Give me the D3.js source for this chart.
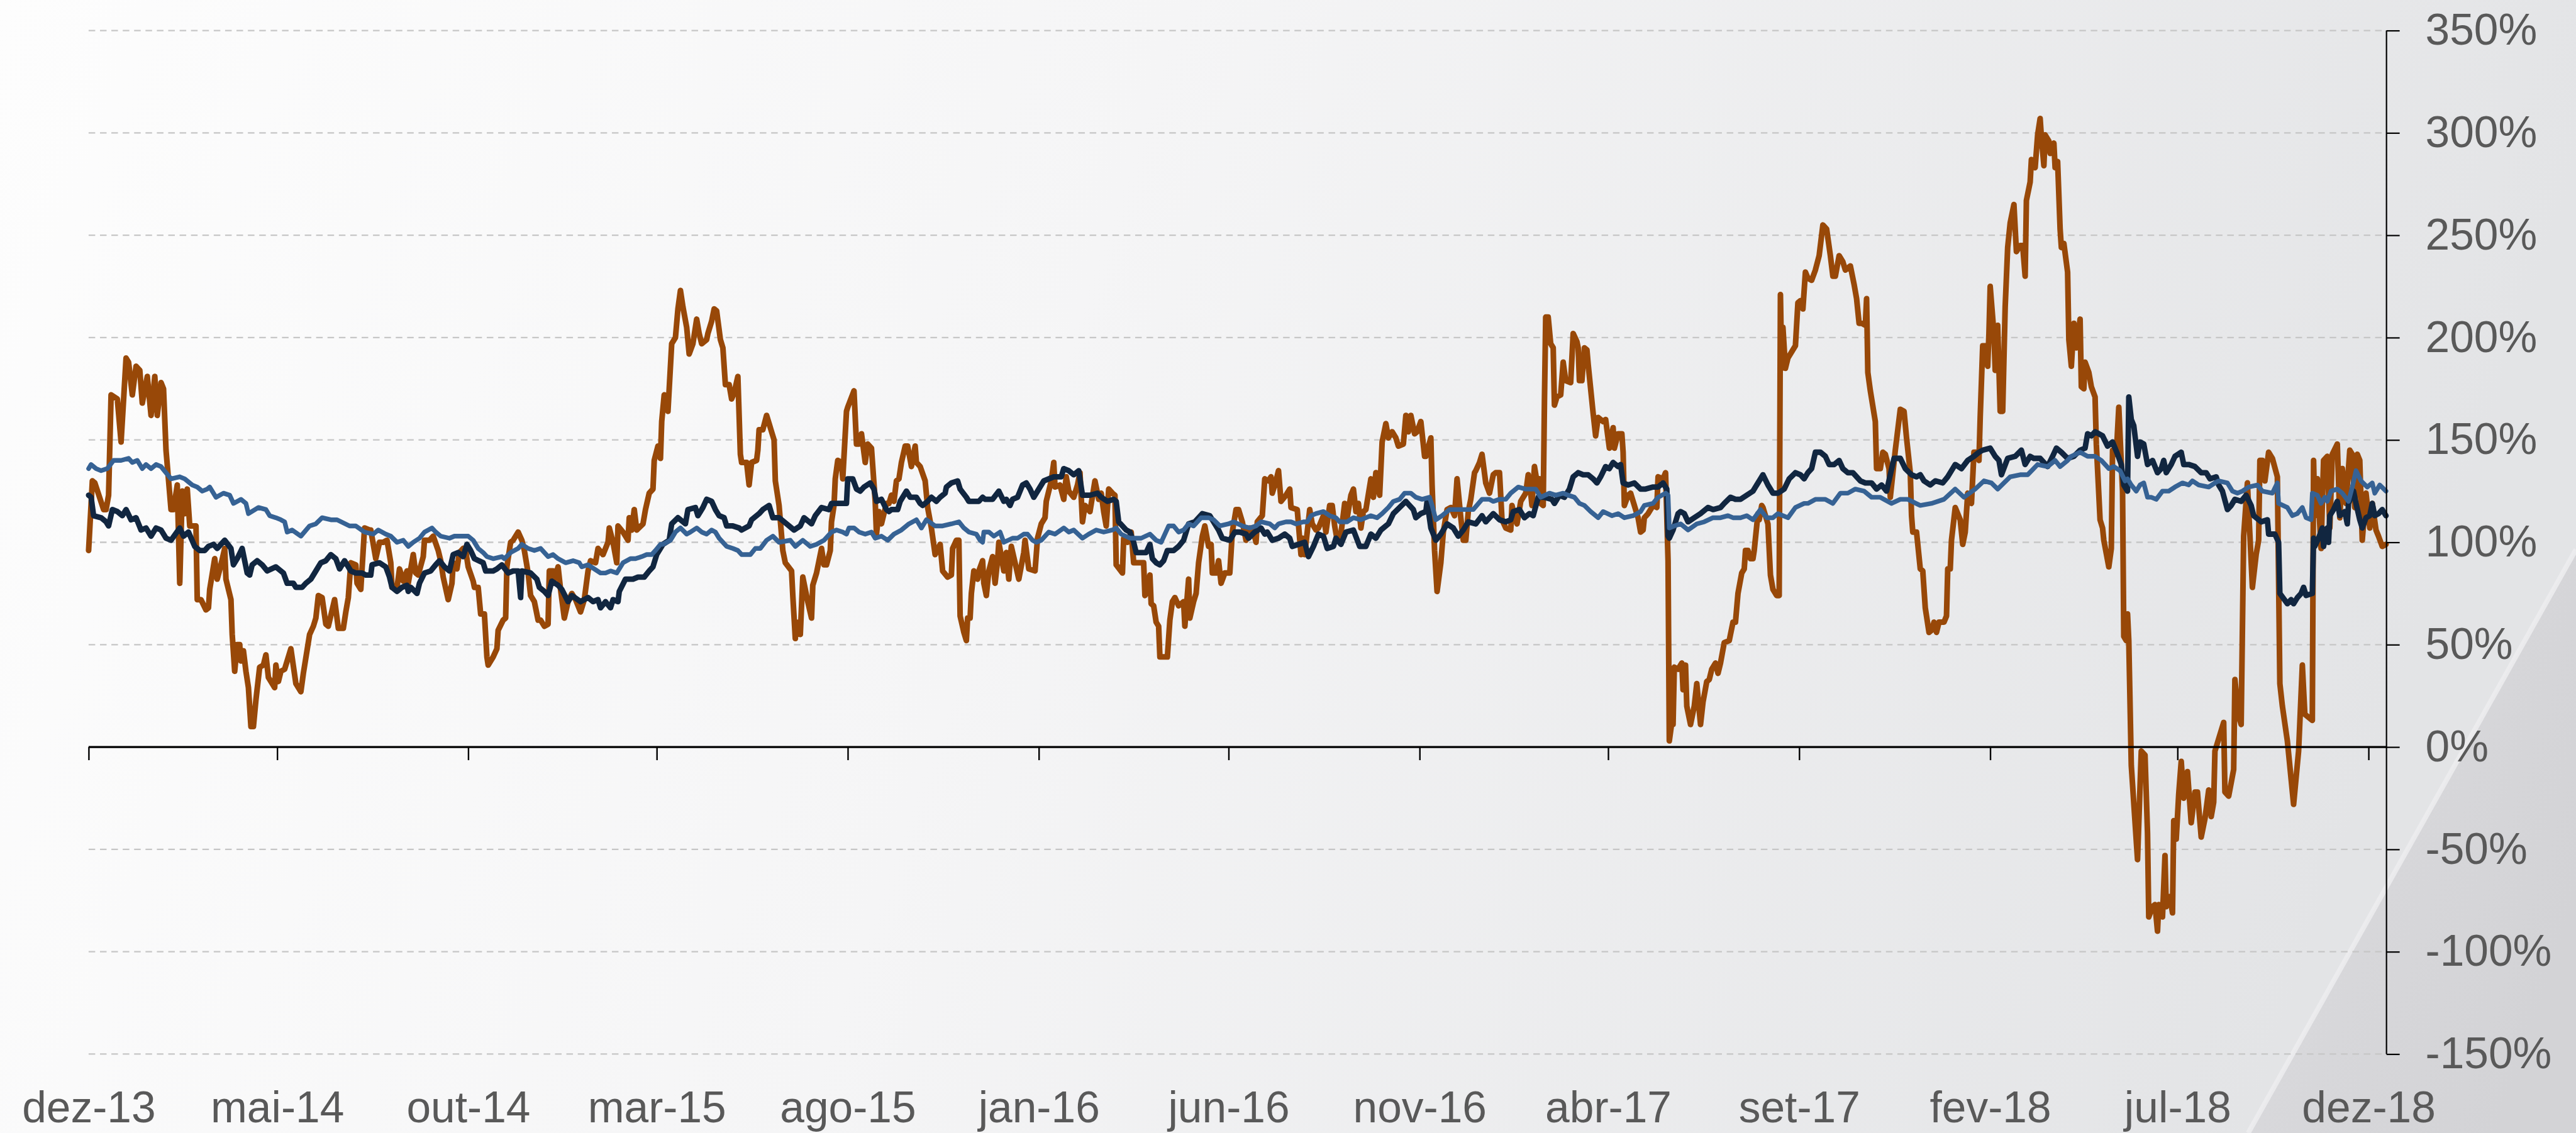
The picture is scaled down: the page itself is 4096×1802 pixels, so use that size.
<!DOCTYPE html>
<html>
<head>
<meta charset="utf-8">
<script src="https://cdn.jsdelivr.net/npm/d3@7"></script>
<style>
html,body{margin:0;padding:0;background:#fff;}
svg{display:block;}
</style>
</head>
<body>
<svg id="chart" width="4096" height="1802"></svg>
<script>
// ---------- DATA (day offset from 1 Dec 2013, value in %) ----------
const startDate = Date.UTC(2013, 11, 1);
const endDay = 1840.4;

const tickDates = ["2013-12-01","2014-05-01","2014-10-01","2015-03-01","2015-08-01","2016-01-01","2016-06-01","2016-11-01","2017-04-01","2017-09-01","2018-02-01","2018-07-01","2018-12-01"];
const tickLabels = ["dez-13","mai-14","out-14","mar-15","ago-15","jan-16","jun-16","nov-16","abr-17","set-17","fev-18","jul-18","dez-18"];
const yTicks = [-150,-100,-50,0,50,100,150,200,250,300,350];

const orangeSeries = [[0,96],[3,130],[5,129],[12,116],[14,116],[16,123],[18,172],[23,170],[26,149],[30,190],[32,188],[35,172],[38,186],[41,184],[43,168],[47,181],[50,162],[53,181],[55,162],[58,178],[60,175],[62,145],[66,116],[68,116],[71,128],[73,80],[75,125],[77,114],[79,126],[81,108],[86,108],[87,72],[90,72],[94,67],[96,68],[97,77],[101,92],[103,82],[106,89],[109,97],[110,82],[114,72],[115,55],[117,37],[119,50],[121,50],[122,42],[124,47],[126,37],[128,29],[130,10],[132,10],[134,23],[137,39],[140,40],[142,45],[144,34],[149,29],[150,40],[152,32],[154,37],[157,38],[162,48],[166,31],[170,27],[172,36],[177,55],[180,59],[182,63],[184,74],[187,73],[190,60],[192,59],[197,72],[200,58],[204,58],[206,66],[208,73],[210,90],[214,89],[215,80],[218,77],[221,107],[225,106],[226,106],[230,92],[233,100],
[236,100],[239,101],[242,90],[243,78],[247,78],[249,87],[252,81],[255,86],[256,80],[260,94],[262,85],[264,84],[268,93],[269,101],[273,101],[276,103],[280,96],[282,91],[284,83],[288,72],[291,80],[292,90],[295,87],[297,95],[300,97],[302,96],[304,88],[308,81],[309,78],[312,78],[314,65],[317,65],[319,44],[320,40],[324,44],[327,48],[328,57],[332,62],[334,63],[335,88],[338,100],[340,101],[344,105],[347,101],[349,96],[352,85],[354,74],[357,71],[360,62],[362,62],[365,59],[368,60],[369,86],[372,86],[373,82],[376,88],[378,77],[381,63],[384,71],[387,75],[390,72],[394,66],[397,72],[400,86],[402,91],[406,90],[408,97],[412,94],[416,100],[417,107],[420,100],[423,90],[424,108],[428,105],[432,101],[433,112],[435,106],[437,116],[439,106],[444,109],[446,116],[449,124],[452,126],[453,140],[456,147],[458,141],[459,159],[461,172],[464,164],
[467,197],[470,200],[472,214],[474,223],[476,215],[479,205],[481,192],[484,197],[487,209],[489,202],[491,197],[495,199],[496,202],[499,208],[501,214],[503,213],[506,199],[508,195],[510,177],[513,177],[515,170],[517,173],[520,181],[522,143],[523,139],[527,139],[529,128],[531,139],[535,140],[536,145],[537,155],[540,155],[543,162],[545,158],[547,154],[549,150],[550,130],[553,118],[556,96],[558,90],[563,86],[564,74],[566,53],[567,61],[570,55],[572,83],[576,71],[579,63],[580,79],[583,85],[585,91],[587,97],[589,89],[591,89],[594,96],[595,110],[597,118],[598,131],[600,140],[603,139],[604,131],[607,164],[608,166],[613,174],[615,148],[617,148],[619,153],[622,139],[624,148],[627,146],[630,120],[631,104],[633,115],[635,109],[639,119],[641,119],[643,123],[645,120],[647,130],[649,131],[651,139],[654,147],[656,147],[659,137],[662,147],[663,139],[666,137],[670,130],[672,117],[675,107],[678,94],[682,99],[684,86],[688,83],[691,84],[692,97],[695,101],
[697,101],[698,64],[701,56],[703,52],[704,63],[706,63],[707,75],[709,86],[712,82],[713,86],[716,91],[717,80],[719,74],[721,86],[724,93],[726,80],[728,91],[729,100],[733,86],[735,95],[737,82],[739,98],[742,90],[745,82],[749,95],[750,101],[753,87],[758,86],[760,102],[763,109],[766,112],[767,120],[771,130],[773,139],[774,127],[778,128],[781,121],[783,132],[785,125],[789,122],[792,128],[794,134],[796,110],[798,118],[802,115],[806,130],[809,121],[811,124],[813,115],[815,108],[817,126],[820,124],[822,123],[823,89],[828,85],[829,102],[832,100],[835,105],[837,90],[841,90],[845,90],[846,74],[848,76],[850,84],[851,70],[853,69],[855,61],[857,59],[858,44],[861,44],[864,44],[866,62],[868,71],[870,73],[873,69],[877,71],[878,59],[881,82],[882,63],[885,71],[887,75],[889,90],[892,103],[894,108],[897,98],[899,99],[900,85],[903,85],[905,91],[907,80],[910,85],[914,85],[916,105],[919,116],[921,116],[924,110],
[927,101],[930,107],[933,105],[935,100],[936,110],[940,113],[942,131],[945,130],[947,132],[948,124],[951,130],[953,135],[955,120],[959,123],[962,126],[963,117],[968,116],[971,94],[972,102],[974,94],[978,116],[980,109],[983,106],[985,107],[989,113],[991,105],[994,118],[996,118],[998,108],[1000,101],[1003,104],[1006,119],[1008,112],[1011,123],[1013,126],[1015,115],[1017,119],[1019,107],[1021,115],[1023,116],[1027,131],[1029,122],[1031,134],[1034,123],[1036,149],[1039,158],[1041,151],[1044,154],[1047,151],[1049,147],[1053,148],[1055,162],[1057,154],[1059,162],[1062,153],[1064,154],[1067,159],[1070,142],[1071,142],[1075,151],[1076,128],[1078,96],[1080,76],[1083,90],[1085,105],[1088,116],[1091,117],[1094,113],[1096,131],[1099,112],[1101,101],[1103,101],[1105,115],[1107,121],[1110,134],[1111,135],[1114,139],[1116,143],[1119,129],[1122,124],[1125,133],[1127,134],[1130,134],[1132,111],[1135,107],[1139,106],[1140,118],[1142,113],[1144,109],[1147,120],[1151,124],[1153,133],[1155,124],
[1156,118],[1158,137],[1161,126],[1162,131],[1163,119],[1165,118],[1166,169],[1167,210],[1169,210],[1171,197],[1173,195],[1174,167],[1176,171],[1179,172],[1181,188],[1183,179],[1187,178],[1189,202],[1192,198],[1193,195],[1194,179],[1196,179],[1198,195],[1200,194],[1201,187],[1205,163],[1207,152],[1209,161],[1213,159],[1215,160],[1218,146],[1221,156],[1222,146],[1225,153],[1228,153],[1229,144],[1230,118],[1233,123],[1235,124],[1238,118],[1241,112],[1243,105],[1245,106],[1246,112],[1249,114],[1251,116],[1253,118],[1256,117],[1257,132],[1261,131],[1263,134],[1265,91],[1266,3],[1268,12],[1269,11],[1270,39],[1273,38],[1276,41],[1277,28],[1279,40],[1280,20],[1283,11],[1286,20],[1288,31],[1291,11],[1293,22],[1296,32],[1298,33],[1300,38],[1303,41],[1305,36],[1307,41],[1310,51],[1314,52],[1317,61],[1319,61],[1321,75],[1324,85],[1326,87],[1327,96],[1329,96],[1331,92],[1333,92],[1334,96],[1337,114],[1338,111],[1340,118],[1341,117],[1345,109],[1347,84],[1349,77],[1352,74],[1354,74],[1355,221],[1356,185],[1357,205],[1359,185],[1361,190],[1365,194],[1367,196],[1369,217],[1371,218],[1373,214],[1375,232],[1377,229],
[1380,228],[1383,233],[1386,240],[1389,255],[1392,253],[1395,240],[1397,230],[1399,230],[1402,240],[1405,237],[1407,233],[1411,235],[1414,226],[1416,219],[1418,207],[1420,207],[1423,206],[1424,219],[1425,183],[1427,174],[1431,159],[1432,136],[1435,136],[1437,144],[1439,143],[1442,136],[1443,122],[1447,145],[1451,165],[1454,164],[1456,151],[1459,134],[1460,113],[1461,105],[1464,105],[1467,87],[1469,86],[1471,68],[1474,56],[1476,57],[1478,61],[1480,56],[1482,61],[1486,61],[1488,64],[1489,87],[1491,87],[1492,101],[1495,117],[1499,111],[1501,99],[1503,105],[1505,124],[1508,119],[1510,144],[1512,144],[1514,140],[1515,161],[1517,196],[1519,196],[1521,186],[1522,202],[1523,225],[1526,202],[1527,184],[1529,206],[1531,164],[1533,164],[1535,215],[1537,244],[1539,256],[1542,265],[1544,242],[1547,245],[1549,245],[1551,230],[1552,267],[1555,276],[1556,287],[1559,283],[1561,299],[1563,307],[1564,298],[1566,284],[1567,299],[1570,296],[1571,290],[1574,295],[1575,283],[1577,286],[1579,253],[1580,244],[1582,246],[1585,232],[1586,199],[1588,186],[1590,207],[1592,195],[1595,209],[1596,176],[1598,175],[1599,188],[1602,183],[1604,176],[1607,171],[1608,148],[1611,111],[1613,107],[1614,101],[1618,88],[1620,97],[1621,145],[1624,143],[1626,166],[1629,125],[1630,54],[1632,52],[1633,65],[1634,52],
[1636,-9],[1641,-55],[1644,-2],[1647,-4],[1649,-42],[1650,-83],[1653,-78],[1655,-77],[1657,-90],[1658,-77],[1661,-83],[1663,-53],[1664,-78],[1667,-73],[1669,-81],[1670,-36],[1672,-45],[1674,-23],[1676,-7],[1678,-25],[1681,-12],[1684,-37],[1687,-22],[1689,-22],[1692,-44],[1695,-35],[1698,-21],[1700,-34],[1702,-27],[1703,-2],[1706,4],[1710,12],[1711,-22],[1714,-24],[1718,-11],[1719,33],[1722,15],[1724,11],
[1726,103],[1729,129],[1733,78],[1736,94],[1738,101],[1739,140],[1741,140],[1743,130],[1746,144],[1749,141],[1753,132],[1755,31],[1757,20],[1761,3],[1766,-28],[1770,-2],[1773,40],[1775,16],[1781,13],[1782,140],[1783,113],[1785,131],[1788,97],[1790,140],[1793,142],[1795,107],[1797,143],[1801,148],[1803,112],[1805,136],[1808,119],[1811,145],[1813,143],[1815,117],[1817,143],[1819,140],[1821,101],[1824,124],[1827,107],[1829,119],[1832,106],[1834,103],[1837,98],[1840,99]];

const navySeries = [[0,123],[2,122],[4,113],[10,112],[14,110],[16,108],[19,116],[23,115],[27,113],[30,116],[34,111],[38,112],[42,106],[46,107],[50,103],[54,107],[58,106],[62,102],[66,101],[73,107],[76,103],[80,105],[85,98],[89,96],[93,96],[96,98],[100,99],[103,97],[109,101],[114,97],[116,89],[119,92],[123,97],[127,85],[129,84],[131,89],[135,91],[139,89],[143,86],[150,88],[154,86],[156,85],[159,80],[164,80],[166,78],[171,78],[174,80],[178,82],[182,86],[186,90],[190,91],[194,94],[198,92],[201,87],[205,91],[210,86],[214,85],[219,85],[222,84],[226,84],[227,89],[233,90],
[238,88],[241,83],[243,78],[247,76],[251,78],[255,79],[256,76],[258,78],[263,75],[265,80],[269,85],[274,86],[278,89],[281,91],[285,88],[289,86],[292,94],[296,95],[300,93],[303,99],[306,96],[309,92],[316,90],[318,86],[324,86],[327,87],[331,89],[336,85],[340,86],[344,86],[346,73],[347,86],[354,85],[359,82],[361,78],[365,76],[368,74],[371,81],[376,79],[379,77],[384,71],[387,74],[394,71],[400,73],[404,71],[408,72],[410,68],[414,71],[418,68],[420,72],[424,71],[425,76],[430,82],[436,82],[440,83],[445,83],[449,86],[452,88],[455,94],[459,98],
[460,99],[465,101],[467,109],[472,112],[478,109],[480,116],[486,117],[488,113],[492,117],[495,121],[499,120],[502,116],[505,113],[509,112],[511,108],[516,108],[521,107],[523,106],[529,108],[531,111],[537,114],[540,116],[545,118],[548,112],[553,112],[559,109],[565,106],[570,108],[573,112],[579,109],[582,113],[587,117],[593,116],[595,119],[602,119],[607,119],[608,131],[612,131],[615,126],[618,125],[621,127],[626,129],[629,126],[631,120],[635,121],[639,116],[641,115],[643,116],[648,116],[650,120],[655,125],[658,122],[663,122],[666,119],[668,118],[672,120],[675,122],[679,120],[682,122],[686,124],[687,127],[691,129],
[696,130],[698,126],[703,122],[705,120],[709,120],[713,120],[716,122],[718,121],[724,121],[729,125],[733,120],[735,121],[738,118],[740,121],[744,122],[748,128],[751,129],[754,126],[757,122],[761,126],[765,130],[769,131],[773,132],[779,132],[781,136],[785,135],[789,133],[793,135],[796,123],[802,123],[808,124],[811,122],[816,120],[821,121],[823,120],[825,110],[831,106],[834,105],[837,100],[839,95],[842,95],[847,95],[850,99],[852,92],[855,90],[858,89],[861,91],[864,96],[869,96],[873,98],[877,101],[881,109],[886,110],[889,112],[892,114],[898,113],[902,109],[905,106],[908,102],[914,101],[918,105],[922,105],
[927,104],[929,102],[934,105],[939,107],[942,104],[944,105],[948,101],[953,102],[958,104],[962,102],[964,98],[969,99],[974,100],[977,93],[981,98],[985,104],[989,103],[992,97],[997,98],[999,102],[1003,99],[1007,105],[1013,106],[1018,98],[1023,98],[1027,104],[1031,102],[1035,106],[1041,109],[1045,114],[1050,117],[1055,120],[1058,118],[1061,116],[1063,112],[1067,114],[1071,115],[1072,120],[1075,107],[1079,101],[1083,104],[1088,109],[1093,107],[1097,103],[1101,106],[1105,110],[1111,109],[1116,113],[1119,110],[1125,114],[1130,111],[1135,110],[1139,111],[1141,115],[1146,116],
[1150,112],[1154,114],[1157,113],[1161,122],[1166,122],[1172,121],[1174,119],[1178,123],[1182,122],[1186,126],[1189,132],[1193,134],[1197,133],[1201,133],[1205,131],[1208,129],[1211,132],[1215,137],[1218,136],[1221,139],[1225,137],[1227,138],[1229,129],[1233,128],[1238,129],[1243,126],[1247,126],[1253,127],[1257,127],[1261,129],[1264,126],[1265,103],[1266,102],[1269,106],[1273,114],[1275,115],[1278,114],[1281,110],[1286,112],[1291,114],[1297,117],[1301,116],[1307,117],[1310,119],[1315,122],[1319,121],[1323,121],[1328,123],[1333,125],[1337,129],[1341,133],[1345,128],[1349,124],[1353,124],[1358,126],[1362,131],[1367,134],[1371,133],[1374,131],[1377,134],
[1380,136],[1383,144],[1387,144],[1391,142],[1394,138],[1398,138],[1402,140],[1405,136],[1409,134],[1413,134],[1419,130],[1423,129],[1428,129],[1432,126],[1436,128],[1440,125],[1443,133],[1446,141],[1451,141],[1455,136],[1460,133],[1464,132],[1467,133],[1470,130],[1475,128],[1479,130],[1485,129],[1489,132],[1495,138],[1500,136],[1505,140],[1510,142],[1514,144],[1517,145],[1523,146],[1527,142],[1530,140],[1532,133],[1537,141],[1543,142],[1548,145],[1551,138],[1555,142],[1558,141],[1563,141],[1569,137],[1573,142],[1576,146],[1580,144],[1585,141],[1590,142],[1595,145],[1599,146],[1601,153],[1604,152],
[1607,154],[1613,152],[1617,147],[1621,149],[1625,143],[1628,138],[1630,128],[1633,125],[1634,171],[1636,160],[1638,157],[1641,142],[1643,149],[1646,148],[1649,138],[1653,140],[1657,134],[1660,136],[1662,140],[1664,134],[1668,138],[1671,142],[1676,144],[1678,138],[1682,138],[1687,137],[1692,134],[1696,134],[1699,131],[1704,132],[1706,128],[1709,125],[1713,116],[1716,118],[1719,121],[1724,120],[1728,123],[1732,118],[1734,113],[1740,110],[1745,111],[1746,104],[1751,104],[1754,100],[1755,75],[1761,70],[1764,72],[1766,70],[1769,73],[1772,75],[1774,78],[1776,74],[1781,75],[1782,102],[1783,98],[1786,102],[1789,107],[1790,98],[1793,107],[1794,100],[1795,113],[1798,116],[1801,120],[1803,113],[1807,115],[1809,109],[1810,119],[1814,125],[1816,119],[1819,111],[1821,107],[1824,112],[1827,113],[1829,119],[1831,113],[1834,114],[1837,116],[1840,113]];

const blueSeries = [[0,136],[2,138],[6,136],[10,135],[15,136],[20,140],[26,140],[32,141],[35,139],[39,140],[43,136],[46,138],[50,136],[54,138],[58,137],[62,134],[66,131],[73,132],[77,131],[83,128],[87,127],[91,125],[95,126],[97,127],[102,122],[108,124],[113,123],[116,119],[122,121],[126,119],[128,114],[136,117],[142,116],[145,113],[150,112],[154,111],[157,110],[159,105],[163,106],[170,103],[177,108],[182,109],[187,112],[194,111],[199,111],[209,108],[214,108],[221,105],[228,104],[232,106],
[238,104],[242,103],[247,100],[252,101],[256,98],[260,100],[265,102],[269,105],[275,107],[278,105],[282,103],[289,102],[293,103],[298,103],[304,103],[308,101],[312,97],[316,95],[319,93],[324,92],[331,93],[333,92],[338,95],[344,97],[347,99],[352,97],[357,96],[362,97],[368,93],[372,94],[376,92],[382,90],[388,91],[393,90],[395,88],[400,89],[405,87],[410,85],[414,85],[418,86],[423,85],[428,90],[434,92],[438,92],[443,93],[447,94],[451,94],[454,96],[458,99],
[460,99],[466,101],[470,105],[474,107],[479,104],[482,105],[487,107],[491,105],[495,104],[499,106],[502,105],[505,102],[511,98],[516,97],[520,96],[523,94],[530,94],[534,97],[538,97],[543,101],[548,103],[553,100],[562,101],[566,98],[572,101],[578,98],[583,99],[589,101],[595,105],[599,106],[604,105],[607,104],[609,107],[613,107],[617,105],[622,104],[627,105],[630,102],[635,103],[640,101],[645,104],[651,106],[657,109],[663,111],[667,107],[671,111],[678,108],[684,108],[691,109],
[697,110],[701,107],[705,105],[711,104],[714,101],[716,100],[717,105],[721,105],[725,103],[730,105],[733,100],[740,102],[744,102],[749,104],[752,104],[756,101],[759,100],[763,101],[769,105],[774,104],[781,107],[785,105],[789,106],[796,102],[801,104],[807,106],[813,105],[820,106],[823,107],[827,104],[834,102],[843,102],[850,104],[855,101],[859,100],[865,108],[869,108],[873,105],[877,106],[881,109],[885,108],[891,112],[897,112],[901,111],[906,108],[913,109],[917,110],[924,108],
[930,107],[935,108],[939,110],[946,109],[950,107],[953,109],[959,110],[963,110],[967,109],[973,110],[976,110],[979,113],[983,114],[989,115],[994,113],[999,112],[1002,110],[1008,110],[1013,112],[1019,111],[1027,113],[1032,112],[1036,114],[1041,117],[1045,120],[1050,121],[1054,124],[1059,124],[1063,122],[1068,121],[1074,122],[1076,118],[1079,111],[1084,113],[1090,116],[1095,116],[1101,116],[1109,116],[1116,121],[1122,121],[1125,120],[1130,121],[1135,121],[1139,124],[1145,127],[1151,126],
[1153,126],[1159,126],[1163,122],[1170,124],[1175,123],[1181,124],[1185,123],[1190,122],[1194,119],[1198,118],[1203,115],[1209,112],[1213,115],[1220,113],[1225,114],[1230,112],[1237,113],[1243,115],[1246,118],[1253,119],[1257,122],[1263,124],[1265,123],[1266,107],[1270,108],[1275,109],[1281,106],[1288,109],[1294,110],[1301,112],[1307,112],[1313,113],[1317,112],[1323,112],[1328,113],[1333,111],[1339,116],[1344,112],[1349,112],[1353,114],[1361,112],[1367,117],[1374,119],
[1377,119],[1383,121],[1391,121],[1397,119],[1403,124],[1409,124],[1415,126],[1422,125],[1428,122],[1435,122],[1444,119],[1451,121],[1457,121],[1467,118],[1476,119],[1486,121],[1495,126],[1502,122],[1511,126],[1518,130],[1524,129],[1529,126],[1539,132],[1547,133],[1553,133],[1561,138],[1569,137],[1575,140],[1579,137],[1585,140],[1588,142],[1595,144],[1601,142],
[1607,142],[1612,140],[1618,136],[1622,137],[1627,135],[1631,130],[1633,131],[1636,128],[1640,125],[1643,128],[1646,129],[1649,122],[1652,122],[1656,121],[1661,125],[1666,125],[1671,127],[1677,129],[1682,128],[1685,130],[1690,128],[1698,127],[1703,129],[1706,130],[1713,129],[1717,125],[1721,124],[1725,125],[1730,127],[1737,128],[1741,125],[1749,124],[1753,129],[1754,119],[1761,117],[1765,113],[1769,114],[1773,117],[1776,112],[1780,111],[1781,124],[1785,123],[1788,119],[1791,122],[1793,120],[1796,125],[1801,126],[1805,124],[1810,120],[1813,127],[1816,135],[1820,130],[1825,127],[1829,129],[1831,124],[1835,128],[1840,125]];

// ---------- LAYOUT ----------
const S = 0.952;
const W = 4096, H = 1802;
const plotLeft = 148 * S, plotRight = 3986 * S, plotTop = 51 * S, plotBottom = 1761 * S;
const FONT = "'Liberation Sans', Arial, sans-serif";
const TXT = "#595959";

const svg = d3.select("#chart");
const defs = svg.append("defs");

// background gradient
const bg = defs.append("linearGradient").attr("id","bgGrad").attr("x1","0").attr("y1","0").attr("x2","1").attr("y2","0.15");
bg.append("stop").attr("offset","0").attr("stop-color","#fdfdfd");
bg.append("stop").attr("offset","0.45").attr("stop-color","#f5f5f6");
bg.append("stop").attr("offset","1").attr("stop-color","#e3e4e6");
svg.append("rect").attr("width",W).attr("height",H).attr("fill","url(#bgGrad)");

// decorative wedge bottom-right
const wg = defs.append("linearGradient").attr("id","wedgeGrad").attr("x1","0").attr("y1","0").attr("x2","1").attr("y2","0.6");
wg.append("stop").attr("offset","0").attr("stop-color","#dcdcdf");
wg.append("stop").attr("offset","1").attr("stop-color","#d3d3d6");
svg.append("polygon")
  .attr("points",[[3755*S,H],[W,918*S],[W,H]].map(p=>p.join(",")).join(" "))
  .attr("fill","url(#wedgeGrad)");
svg.append("line")
  .attr("x1",3755*S).attr("y1",H).attr("x2",W).attr("y2",918*S)
  .attr("stroke","#eeeef0").attr("stroke-width",8).attr("opacity",0.85);

// ---------- SCALES ----------
const toDate = d => new Date(startDate + d * 864e5);
const x = d3.scaleUtc().domain([toDate(0), toDate(endDay)]).range([plotLeft, plotRight]);
const y = d3.scaleLinear().domain([-150, 350]).range([plotBottom, plotTop]);

// gridlines
svg.append("g").selectAll("line")
  .data(yTicks.filter(v => v !== 0))
  .join("line")
  .attr("x1", plotLeft).attr("x2", plotRight)
  .attr("y1", d => y(d)).attr("y2", d => y(d))
  .attr("stroke", "#c6c6c6").attr("stroke-width", 2.4 * S)
  .attr("stroke-dasharray", `${11*S},${8*S}`);

// ---------- LINES ----------
const line = d3.line().x(d => x(toDate(d[0]))).y(d => y(d[1])).curve(d3.curveLinear);
const seriesDefs = [
  {data: orangeSeries, color: "#984808", width: 9.0},
  {data: navySeries,   color: "#112640", width: 8.8},
  {data: blueSeries,   color: "#366294", width: 7.4}
];
svg.append("g").selectAll("path")
  .data(seriesDefs)
  .join("path")
  .attr("d", d => line(d.data))
  .attr("fill", "none")
  .attr("stroke", d => d.color)
  .attr("stroke-width", d => d.width)
  .attr("stroke-linejoin", "round")
  .attr("stroke-linecap", "round");

// ---------- AXES ----------
const tickDateObjs = tickDates.map(s => new Date(s + "T00:00:00Z"));

// x axis line at 0%
const xAxis = d3.axisBottom(x).tickValues(tickDateObjs).tickSize(22 * S).tickFormat("");
const gx = svg.append("g").attr("transform", `translate(0,${y(0)})`).call(xAxis);
gx.select(".domain").attr("stroke", "#000").attr("stroke-width", 3.2).attr("d", `M${plotLeft},0H${plotRight}`);
gx.selectAll(".tick line").attr("stroke", "#000").attr("stroke-width", 2.4);

// x labels at bottom
const xLab = d3.axisBottom(x).tickValues(tickDateObjs).tickSize(0).tickPadding(0)
  .tickFormat((d, i) => tickLabels[i]);
const gxl = svg.append("g").attr("transform", `translate(0,${1875 * S})`).call(xLab);
gxl.select(".domain").remove();
gxl.selectAll("text").attr("dy", "0").attr("y", 0)
  .attr("font-family", FONT).attr("font-size", 73 * S).attr("fill", TXT);

// y axis on right
const yAxis = d3.axisRight(y).tickValues(yTicks).tickSize(22 * S).tickPadding(43 * S).tickFormat(d => d + "%");
const gy = svg.append("g").attr("transform", `translate(${plotRight},0)`).call(yAxis);
gy.select(".domain").attr("stroke", "#000").attr("stroke-width", 2.2).attr("d", `M0,${y(-150)}V${y(350)}`);
gy.selectAll(".tick line").attr("stroke", "#000").attr("stroke-width", 2.2);
gy.selectAll("text").attr("font-family", FONT).attr("font-size", 73 * S).attr("fill", TXT);
</script>
</body>
</html>
